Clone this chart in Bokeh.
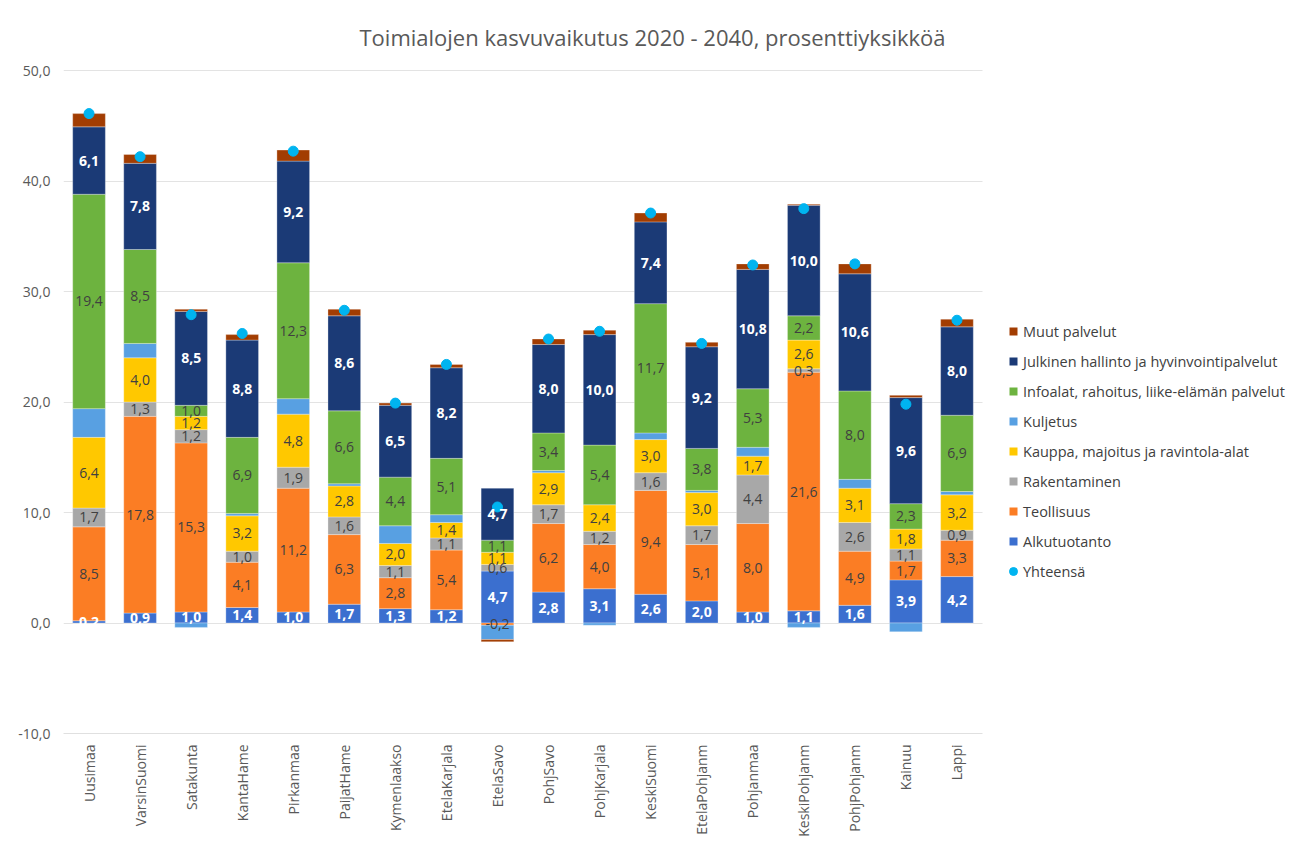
import math
from bokeh.plotting import figure
from bokeh.models import (ColumnDataSource, Range1d, Legend, LegendItem, BoxAnnotation,
                          Label, CustomJSTickFormatter, FixedTicker)
from bokeh.core.properties import value
from bokeh.embed import file_html
from bokeh.resources import INLINE

# ---------------- data ----------------
categories = ["Uusimaa", "VarsinSuomi", "Satakunta", "KantaHame", "Pirkanmaa", "PaijatHame",
              "Kymenlaakso", "EtelaKarjala", "EtelaSavo", "PohjSavo", "PohjKarjala", "KeskiSuomi",
              "EtelaPohjanm", "Pohjanmaa", "KeskiPohjanm", "PohjPohjanm", "Kainuu", "Lappi"]

alkutuotanto = [0.2, 0.9, 1.0, 1.4, 1.0, 1.7, 1.3, 1.2, 4.7, 2.8, 3.1, 2.6, 2.0, 1.0, 1.1, 1.6, 3.9, 4.2]
teollisuus   = [8.5, 17.8, 15.3, 4.1, 11.2, 6.3, 2.8, 5.4, -0.2, 6.2, 4.0, 9.4, 5.1, 8.0, 21.6, 4.9, 1.7, 3.3]
rakentaminen = [1.7, 1.3, 1.2, 1.0, 1.9, 1.6, 1.1, 1.1, 0.6, 1.7, 1.2, 1.6, 1.7, 4.4, 0.3, 2.6, 1.1, 0.9]
kauppa       = [6.4, 4.0, 1.2, 3.2, 4.8, 2.8, 2.0, 1.4, 1.1, 2.9, 2.4, 3.0, 3.0, 1.7, 2.6, 3.1, 1.8, 3.2]
kuljetus     = [2.6, 1.3, -0.4, 0.2, 1.4, 0.2, 1.6, 0.7, -1.3, 0.2, -0.2, 0.6, 0.2, 0.8, -0.4, 0.8, -0.8, 0.3]
infoalat     = [19.4, 8.5, 1.0, 6.9, 12.3, 6.6, 4.4, 5.1, 1.1, 3.4, 5.4, 11.7, 3.8, 5.3, 2.2, 8.0, 2.3, 6.9]
julkinen     = [6.1, 7.8, 8.5, 8.8, 9.2, 8.6, 6.5, 8.2, 4.7, 8.0, 10.0, 7.4, 9.2, 10.8, 10.0, 10.6, 9.6, 8.0]
muut         = [1.2, 0.8, 0.2, 0.5, 1.0, 0.6, 0.2, 0.3, -0.2, 0.5, 0.4, 0.8, 0.4, 0.5, 0.1, 0.9, 0.2, 0.7]
yhteensa     = [46.1, 42.2, 27.9, 26.2, 42.7, 28.3, 19.9, 23.4, 10.5, 25.7, 26.4, 37.1, 25.3, 32.4, 37.5, 32.5, 19.8, 27.4]

y_ticks = [-10, 0, 10, 20, 30, 40, 50]
title_text = "Toimialojen kasvuvaikutus 2020 - 2040, prosenttiyksikköä"

# name, values, color, label style (None = no labels)
series = [
    ("Alkutuotanto", alkutuotanto, "#3B6FCF", "white"),
    ("Teollisuus", teollisuus, "#FB7D24", "dark"),
    ("Rakentaminen", rakentaminen, "#A8A8A8", "dark"),
    ("Kauppa, majoitus ja ravintola-alat", kauppa, "#FFC800", "dark"),
    ("Kuljetus", kuljetus, "#58A0E2", None),
    ("Infoalat, rahoitus, liike-elämän palvelut", infoalat, "#6DB33F", "dark"),
    ("Julkinen hallinto ja hyvinvointipalvelut", julkinen, "#1B3A76", "white"),
    ("Muut palvelut", muut, "#A23D02", None),
]
total_color = "#00B4F0"

FONT = "Open Sans"
GRAY = "#595959"

# ---------------- layout ----------------
W, H = 1300, 845
FL, FT, FB = 63, 10, 733                   # frame left / top / bottom (page px)
plot_right_px = 982                        # right end of the category area
n = len(categories)
px_per_cat = (plot_right_px - FL) / n
px_per_unit = (733 - 70) / 60.0            # -10 at 733, 50 at 70
x_end = (W - FL) / px_per_cat
y_top = -10 + (FB - FT) / px_per_unit

xs = [i + 0.5 for i in range(n)]           # category centres

p = figure(x_range=Range1d(0, x_end), y_range=Range1d(-10, y_top),
           width=W, height=H, output_backend="svg", toolbar_location=None,
           min_border_left=FL, min_border_right=0, min_border_top=FT,
           min_border_bottom=H - FB, title=None)
p.outline_line_color = None
p.background_fill_color = "white"
p.border_fill_color = "white"

pos = [0.0] * n
neg = [0.0] * n
legend_proxies = {}
lab_x, lab_y, lab_t, lab_style = [], [], [], []
for name, vals, color, style in series:
    bottoms, tops = [], []
    for i, v in enumerate(vals):
        if v >= 0:
            b = pos[i]; t = b + v; pos[i] = t
        else:
            b = neg[i]; t = b + v; neg[i] = t
        bottoms.append(b); tops.append(t)
        if style is not None:
            lab_x.append(xs[i])
            lab_y.append((b + t) / 2)
            lab_t.append(f"{v:.1f}".replace(".", ","))
            lab_style.append(style)
    src = ColumnDataSource(dict(x=xs, bottom=bottoms, top=tops))
    p.vbar(x="x", bottom="bottom", top="top", width=0.64, source=src,
           fill_color=color, line_color="white", line_width=0.6, line_alpha=0.5)
    # zero-size square markers: invisible on the plot, used only as legend glyphs
    legend_proxies[name] = p.scatter(x="x", y="top", source=src, size=0, marker="square",
                                     fill_color=color, line_color=None)

# totals
tot_src = ColumnDataSource(dict(x=xs, y=yhteensa))
r_tot = p.scatter(x="x", y="y", source=tot_src, size=10, marker="circle",
                  fill_color=total_color, line_color=total_color)

# data labels
for style, col, weight in [("dark", "#404040", "normal"), ("white", "white", "bold")]:
    idx = [k for k, s in enumerate(lab_style) if s == style]
    s = ColumnDataSource(dict(x=[lab_x[k] for k in idx], y=[lab_y[k] for k in idx],
                              t=[lab_t[k] for k in idx]))
    p.text(x="x", y="y", text="t", source=s, text_align="center", text_baseline="middle",
           text_font=value(FONT), text_font_size="14px", text_color=col,
           text_font_style=weight)

# axes
p.yaxis.ticker = FixedTicker(ticks=y_ticks)
p.yaxis.formatter = CustomJSTickFormatter(code="return tick.toFixed(1).replace('.', ',');")
p.yaxis.axis_line_color = None
p.yaxis.major_tick_line_color = None
p.yaxis.minor_tick_line_color = None
p.yaxis.major_tick_out = 0
p.yaxis.major_label_standoff = 13
p.yaxis.major_label_text_font = FONT
p.yaxis.major_label_text_font_size = "14px"
p.yaxis.major_label_text_color = GRAY

p.xaxis.ticker = FixedTicker(ticks=xs)
p.xaxis.major_label_overrides = {x: c for x, c in zip(xs, categories)}
p.xaxis.bounds = (0, n)
p.xaxis.axis_line_color = "#e0e0e0"
p.xaxis.major_tick_line_color = None
p.xaxis.minor_tick_line_color = None
p.xaxis.major_tick_out = 0
p.xaxis.major_label_orientation = math.pi / 2
p.xaxis.major_label_standoff = 11
p.xaxis.major_label_text_font = FONT
p.xaxis.major_label_text_font_size = "14px"
p.xaxis.major_label_text_color = GRAY

p.xgrid.grid_line_color = None
p.ygrid.ticker = FixedTicker(ticks=y_ticks)
p.ygrid.grid_line_color = "#e3e3e3"
p.ygrid.grid_line_width = 1

# blank the legend area to the right of the categories (hides gridlines there)
p.add_layout(BoxAnnotation(left=n, fill_color="white", fill_alpha=1.0, line_color=None,
                           level="underlay"))

# title (inside the extended frame, above the 50 gridline)
p.add_layout(Label(x=652 - FL, y=FB - 36, x_units="screen", y_units="screen", text=title_text,
                   text_align="center", text_baseline="middle", text_font=FONT,
                   text_font_size="22px", text_color=GRAY))

# legend
items = [LegendItem(label=name, renderers=[legend_proxies[name]]) for name, _, _, _ in reversed(series)]
items.append(LegendItem(label="Yhteensä", renderers=[r_tot]))
leg = Legend(items=items, location=(1003 - FL, FB - 581), orientation="vertical",
             glyph_width=20, glyph_height=20, label_standoff=0, spacing=10, label_height=20,
             padding=0, margin=0, border_line_alpha=0, background_fill_alpha=0,
             label_text_font=FONT, label_text_font_size="14.5px", label_text_color="#404040")
p.add_layout(leg, "center")

open("out.html", "w").write(file_html(p, INLINE))
